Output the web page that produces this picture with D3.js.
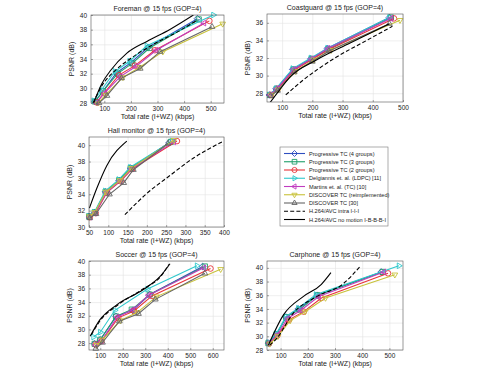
<!DOCTYPE html>
<html><head><meta charset="utf-8">
<script src="https://cdn.jsdelivr.net/npm/d3@7"></script>
<style>body{margin:0;background:#fff}svg{display:block;font-family:"Liberation Sans",Arial,sans-serif}</style>
</head><body><svg id="c" width="483" height="369"></svg>
<script>
// ---- legend / series definitions ----
const seriesNames = [
  "Progressive TC (4 groups)",
  "Progressive TC (3 groups)",
  "Progressive TC (2 groups)",
  "Delgiannis et. al. (LDPC) [11]",
  "Martins et. al. (TC) [10]",
  "DISCOVER TC (reimplemented)",
  "DISCOVER TC [30]",
  "H.264/AVC intra I-I-I",
  "H.264/AVC no motion I-B-B-B-I"
];
const seriesColors = ["#2f4fc0","#1f9f6a","#e8343a","#2ec8cc","#c03cc0","#c8c23a","#666666","#000000","#000000"];
const seriesSymbols = ["diamond","square","circle","triRight","triLeft","triDown","triUp","none","none"];
const seriesDash = [null,null,null,null,null,null,null,"4,2.2",null];

// ---- data: [rate kbps, PSNR dB] per series (same order as seriesNames) ----
const foremanData = [
  [[65,28.2],[95,29.6],[145,32.1],[200,33.5],[265,35.6],[450,39.5]],
  [[65,28.2],[95,29.6],[150,32.0],[205,33.4],[270,35.5],[455,39.4]],
  [[70,28.1],[100,29.4],[155,31.8],[215,33.1],[290,35.2],[495,39.2]],
  [[60,28.3],[90,29.8],[140,32.3],[195,33.7],[260,35.8],[510,40.0]],
  [[70,28.0],[100,29.3],[160,31.6],[220,33.0],[295,35.2],[475,38.9]],
  [[75,27.9],[105,29.1],[170,31.5],[235,32.9],[320,35.0],[545,38.8]],
  [[80,28.0],[110,29.0],[165,31.4],[235,32.7],[310,35.0],[505,38.4]],
  [[58,28.0],[90,30.3],[140,32.4],[200,34.1],[290,36.1],[380,37.8],[450,39.3]],
  [[60,28.0],[90,30.6],[125,32.5],[185,34.8],[260,36.4],[345,38.0],[435,40.0]]
];
const coastguardData = [
  [[58,27.8],[80,28.5],[135,30.7],[195,31.9],[250,33.1],[455,36.6]],
  [[60,27.8],[82,28.5],[138,30.7],[198,31.9],[253,33.0],[460,36.6]],
  [[62,27.8],[85,28.5],[140,30.6],[200,31.85],[257,33.0],[470,36.5]],
  [[58,27.8],[80,28.5],[135,30.8],[195,32.0],[250,33.1],[455,36.6]],
  [[60,27.8],[83,28.5],[138,30.7],[197,31.9],[253,33.1],[460,36.5]],
  [[65,27.8],[88,28.4],[145,30.5],[205,31.8],[262,32.9],[490,36.3]],
  [[62,27.7],[85,28.3],[140,30.4],[200,31.6],[255,32.8],[455,35.9]],
  [[112,27.8],[170,29.5],[270,31.9],[380,34.0],[465,35.6]],
  [[55,26.7],[90,28.3],[125,29.8],[215,31.8],[325,33.7],[455,35.9]]
];
const hallData = [
  [[50,31.3],[65,31.8],[93,34.3],[128,35.7],[158,37.2],[258,40.3]],
  [[50,31.3],[65,31.8],[93,34.3],[128,35.7],[158,37.2],[262,40.4]],
  [[52,31.2],[67,31.7],[96,34.2],[132,35.6],[162,37.1],[278,40.5]],
  [[50,31.3],[64,31.8],[92,34.4],[127,35.8],[157,37.3],[265,40.5]],
  [[52,31.2],[66,31.7],[95,34.2],[130,35.6],[160,37.1],[270,40.4]],
  [[51,31.3],[65,31.8],[94,34.3],[130,35.7],[160,37.2],[270,40.6]],
  [[52,31.1],[68,31.6],[103,34.0],[140,35.4],[165,37.0],[255,40.2]],
  [[143,31.5],[200,34.1],[260,36.3],[320,38.4],[395,40.4]],
  [[51,32.3],[70,34.7],[96,37.5],[148,40.5]]
];
const soccerData = [
  [[75,27.9],[100,28.5],[170,31.9],[245,32.8],[320,35.1],[555,39.2]],
  [[75,27.9],[100,28.5],[170,31.9],[240,32.9],[320,35.1],[565,39.2]],
  [[80,27.8],[105,28.3],[180,31.7],[250,32.7],[330,34.9],[590,38.9]],
  [[70,28.9],[100,29.6],[165,32.8],[310,35.9],[530,39.3]],
  [[80,27.7],[105,28.3],[175,31.8],[245,32.9],[315,35.0],[560,39.0]],
  [[85,27.7],[110,28.5],[190,31.3],[265,32.5],[350,34.8],[635,38.8]],
  [[80,27.2],[110,28.1],[185,31.2],[270,32.3],[345,34.4],[565,38.2]],
  [[60,29.2],[100,31.3],[175,33.5],[290,35.9],[370,37.8],[405,39.5]],
  [[55,29.0],[98,31.4],[173,33.6],[290,35.8],[365,37.7],[410,39.6]]
];
const carphoneData = [
  [[55,29.0],[85,30.3],[120,32.8],[165,34.0],[235,36.0],[470,39.4]],
  [[55,29.0],[85,30.3],[120,32.8],[170,33.9],[235,36.0],[475,39.4]],
  [[58,29.0],[88,30.1],[130,32.4],[185,33.6],[250,35.6],[495,39.2]],
  [[55,29.1],[85,30.4],[120,32.9],[165,34.1],[230,36.1],[535,40.3]],
  [[58,29.0],[88,30.2],[125,32.6],[175,33.8],[240,35.8],[480,39.4]],
  [[60,28.9],[90,30.0],[135,32.3],[190,33.6],[265,35.6],[520,39.0]],
  null,
  [[60,28.7],[86,29.7],[147,33.4],[233,35.8],[331,37.7],[392,40.2]],
  [[55,28.7],[110,33.1],[183,35.8],[250,37.6],[285,39.3]]
];

// ---- axis ticks ----
const xTicks500 = [100,200,300,400,500];
const xTicksHall = [50,100,150,200,250,300,350,400];
const xTicksSoccer = [100,200,300,400,500,600];
const yTicksForeman = [28,30,32,34,36,38,40];
const yTicksCoast = [28,30,32,34,36];
const yTicksHall = [30,32,34,36,38,40];
const yTicksSoccer = [28,30,32,34,36,38,40];
const yTicksCarphone = [28,30,32,34,36,38,40];

const panels = [
  {title:"Foreman @ 15 fps (GOP=4)", data:foremanData, box:[91,15,224,103], xd:[50,550], yd:[28,40], xt:xTicks500, yt:yTicksForeman},
  {title:"Coastguard @ 15 fps (GOP=4)", data:coastguardData, box:[267,14,403,102], xd:[50,500], yd:[27,37], xt:xTicks500, yt:yTicksCoast},
  {title:"Hall monitor @ 15 fps (GOP=4)", data:hallData, box:[89,137,224,227], xd:[50,400], yd:[30,41], xt:xTicksHall, yt:yTicksHall},
  {title:"Soccer @ 15 fps (GOP=4)", data:soccerData, box:[89,261,224,350], xd:[50,650], yd:[27,40], xt:xTicksSoccer, yt:yTicksSoccer},
  {title:"Carphone @ 15 fps (GOP=4)", data:carphoneData, box:[267,261,403,350], xd:[50,550], yd:[28,41], xt:xTicks500, yt:yTicksCarphone}
];

const svg = d3.select("#c");
svg.append("rect").attr("width",483).attr("height",369).attr("fill","#fff");

function symbolPath(type, r){
  const h = r*0.866;
  switch(type){
    case "diamond": return `M0,${-r}L${r},0L0,${r}L${-r},0Z`;
    case "square": { const s=r*0.78; return `M${-s},${-s}H${s}V${s}H${-s}Z`; }
    case "circle": return d3.arc()({innerRadius:0,outerRadius:r*0.85,startAngle:0,endAngle:2*Math.PI});
    case "triUp": return `M0,${-r}L${h},${r/2}L${-h},${r/2}Z`;
    case "triDown": return `M0,${r}L${h},${-r/2}L${-h},${-r/2}Z`;
    case "triRight": return `M${r},0L${-r/2},${h}L${-r/2},${-h}Z`;
    case "triLeft": return `M${-r},0L${r/2},${h}L${r/2},${-h}Z`;
  }
  return "";
}

panels.forEach((p,pi)=>{
  const [x0,y0,x1,y1] = p.box;
  const x = d3.scaleLinear().domain(p.xd).range([x0,x1]);
  const y = d3.scaleLinear().domain(p.yd).range([y1,y0]);
  const g = svg.append("g");
  // grid
  g.append("g").attr("transform",`translate(0,${y1})`)
    .call(d3.axisBottom(x).tickValues(p.xt).tickSize(-(y1-y0)).tickFormat(""))
    .call(a=>{a.select(".domain").remove();a.selectAll("line").attr("stroke","#e2e2e2").attr("stroke-width",0.6);});
  g.append("g").attr("transform",`translate(${x0},0)`)
    .call(d3.axisLeft(y).tickValues(p.yt).tickSize(-(x1-x0)).tickFormat(""))
    .call(a=>{a.select(".domain").remove();a.selectAll("line").attr("stroke","#e2e2e2").attr("stroke-width",0.6);});
  // tick labels
  g.append("g").attr("transform",`translate(0,${y1})`)
    .call(d3.axisBottom(x).tickValues(p.xt).tickSize(2).tickPadding(1.5).tickFormat(d3.format("d")))
    .call(a=>{a.select(".domain").remove();a.selectAll("line").attr("stroke","#555").attr("stroke-width",0.5).attr("y2",-2);
      a.selectAll("text").attr("font-size",6.5).attr("fill","#222").attr("font-family","Liberation Sans, Arial, sans-serif");});
  g.append("g").attr("transform",`translate(${x0},0)`)
    .call(d3.axisLeft(y).tickValues(p.yt).tickSize(2).tickPadding(2).tickFormat(d3.format("d")))
    .call(a=>{a.select(".domain").remove();a.selectAll("line").attr("stroke","#555").attr("stroke-width",0.5).attr("x2",2);
      a.selectAll("text").attr("font-size",6.5).attr("fill","#222").attr("font-family","Liberation Sans, Arial, sans-serif");});
  // clip
  const cid = "clip"+pi;
  svg.append("clipPath").attr("id",cid).append("rect")
    .attr("x",x0-3).attr("y",y0-3).attr("width",x1-x0+6).attr("height",y1-y0+6);
  const lineClip = "lclip"+pi;
  svg.append("clipPath").attr("id",lineClip).append("rect")
    .attr("x",x0).attr("y",y0).attr("width",x1-x0).attr("height",y1-y0);
  const line = d3.line().x(d=>x(d[0])).y(d=>y(d[1]));
  const smooth = d3.line().x(d=>x(d[0])).y(d=>y(d[1])).curve(d3.curveMonotoneX);
  const plotG = g.append("g");
  p.data.forEach((s,si)=>{
    if(!s) return;
    const col = seriesColors[si];
    const isRef = si>=7;
    plotG.append("path").attr("d",(isRef?smooth:line)(s)).attr("fill","none").attr("stroke",col)
      .attr("stroke-width", 1.1).attr("stroke-dasharray",seriesDash[si])
      .attr("clip-path",`url(#${lineClip})`);
    if(seriesSymbols[si]!=="none"){
      plotG.append("g").attr("clip-path",`url(#${cid})`).selectAll("path").data(s).join("path")
        .attr("transform",d=>`translate(${x(d[0])},${y(d[1])})`)
        .attr("d",symbolPath(seriesSymbols[si],3.3))
        .attr("fill","none").attr("stroke",col).attr("stroke-width",0.9);
    }
  });
  // box
  g.append("rect").attr("x",x0).attr("y",y0).attr("width",x1-x0).attr("height",y1-y0)
    .attr("fill","none").attr("stroke","#555").attr("stroke-width",0.6);
  // title & labels
  g.append("text").attr("x",(x0+x1)/2).attr("y",y0-4).attr("text-anchor","middle")
    .attr("font-size",7).attr("fill","#222").text(p.title);
  g.append("text").attr("x",(x0+x1)/2).attr("y",y1+16).attr("text-anchor","middle")
    .attr("font-size",7).attr("fill","#222").text("Total rate (I+WZ) (kbps)");
  g.append("text").attr("transform",`translate(${x0-17},${(y0+y1)/2}) rotate(-90)`).attr("text-anchor","middle")
    .attr("font-size",7).attr("fill","#222").text("PSNR (dB)");
});

// legend
const lg = svg.append("g");
const lx0 = 280, ly0 = 147, lw = 108, lh = 79;
lg.append("rect").attr("x",lx0).attr("y",ly0).attr("width",lw).attr("height",lh)
  .attr("fill","#fff").attr("stroke","#777").attr("stroke-width",0.6);
const ly = d3.scalePoint().domain(d3.range(seriesNames.length)).range([ly0+6.5,ly0+lh-6.5]);
seriesNames.forEach((n,i)=>{
  const yy = ly(i);
  lg.append("line").attr("x1",lx0+4).attr("x2",lx0+25).attr("y1",yy).attr("y2",yy)
    .attr("stroke",seriesColors[i]).attr("stroke-width",1.1).attr("stroke-dasharray",seriesDash[i]);
  if(seriesSymbols[i]!=="none"){
    lg.append("path").attr("transform",`translate(${lx0+14.5},${yy})`).attr("d",symbolPath(seriesSymbols[i],3))
      .attr("fill","none").attr("stroke",seriesColors[i]).attr("stroke-width",0.9);
  }
  lg.append("text").attr("x",lx0+29).attr("y",yy+2).attr("font-size",5.6).attr("fill","#222").text(n);
});
</script></body></html>
